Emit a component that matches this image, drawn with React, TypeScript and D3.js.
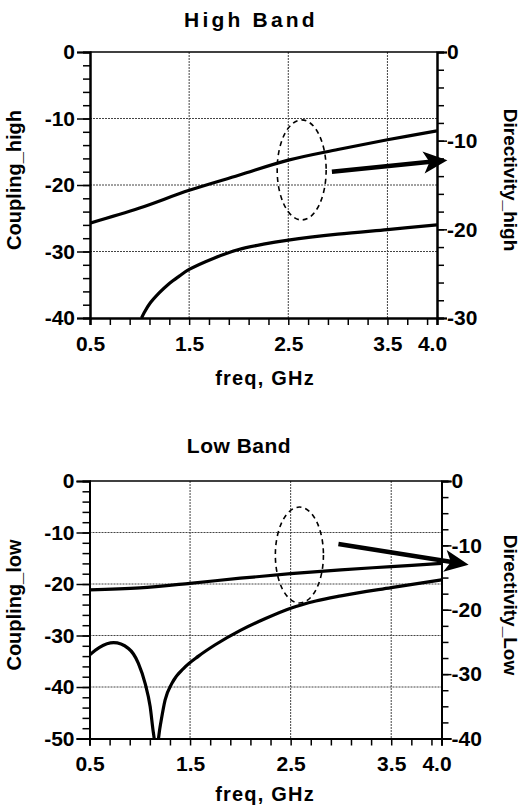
import React, { useEffect, useRef } from 'react';
import * as d3 from 'd3';

const FONT = '"Liberation Sans", Arial, sans-serif';

// x axis (both panels)
const freqTicks = [0.5, 1.5, 2.5, 3.5, 4.0];
const freqTickLabels = ['0.5', '1.5', '2.5', '3.5', '4.0'];
const freqMinor = [0.7, 0.9, 1.1, 1.3, 1.7, 1.9, 2.1, 2.3, 2.7, 2.9, 3.1, 3.3, 3.7, 3.9];

// High band
const couplingHighFreq = [1.02, 1.05, 1.1, 1.2, 1.3, 1.4, 1.5, 1.75, 2.0, 2.25, 2.5, 3.0, 3.5, 4.0];
const couplingHighDb = [-40, -39.1, -37.9, -36.2, -34.8, -33.7, -32.7, -31.0, -29.7, -28.9, -28.3, -27.4, -26.7, -26.0];
const directivityHighFreq = [0.5, 1.0, 1.5, 2.0, 2.5, 3.0, 3.5, 4.0];
const directivityHighDb = [-19.3, -17.6, -15.6, -13.9, -12.2, -11.0, -9.9, -8.9];
const couplingHighTicks = [0, -10, -20, -30, -40];
const directivityHighTicks = [0, -10, -20, -30];

// Low band
const couplingLowFreq = [0.5, 0.6, 0.74, 0.886, 0.986, 1.053, 1.103, 1.136, 1.165, 1.202, 1.252, 1.319, 1.451, 1.584, 1.75, 2.0, 2.25, 2.5, 2.75, 3.0, 3.5, 4.0];
const couplingLowDb = [-33.8, -32.3, -31.4, -32.5, -35.4, -39.3, -43.8, -49.0, -52, -47.7, -42.5, -39.3, -36.1, -34.0, -31.8, -29.0, -26.7, -24.7, -23.3, -22.3, -20.7, -19.2];
const directivityLowFreq = [0.5, 1.0, 1.5, 2.0, 2.5, 3.0, 3.5, 4.0];
const directivityLowDb = [-16.9, -16.6, -15.9, -15.1, -14.4, -13.8, -13.3, -12.8];
const couplingLowTicks = [0, -10, -20, -30, -40, -50];
const directivityLowTicks = [0, -10, -20, -30, -40];

// annotations, in (freq, right axis dB)
const highEllipse = { f: 2.635, v: -13.3, rf: 0.247, rv: 5.64 };
const highArrow = [[2.94, -13.5], [4.105, -12.2]];
const lowEllipse = { f: 2.587, v: -11.5, rf: 0.239, rv: 7.45 };
const lowArrow = [[2.975, -9.8], [4.27, -13.0]];

const minorRange = (min, step) => d3.range(0, min - 0.001, -step);

function drawPanel(svg, p) {
  const x = d3.scaleLinear().domain([0.5, 4.0]).range([p.x0, p.x1]);
  const yL = d3.scaleLinear().domain([p.leftMin, 0]).range([p.y1, p.y0]);
  const yR = d3.scaleLinear().domain([p.rightMin, 0]).range([p.y1, p.y0]);
  const g = svg.append('g');

  g.append('clipPath').attr('id', p.id + '-clip')
    .append('rect')
    .attr('x', p.x0).attr('y', p.y0)
    .attr('width', p.x1 - p.x0).attr('height', p.y1 - p.y0);

  // grid
  g.selectAll('.hgrid').data(p.leftTicks.filter(d => d !== 0 && d !== p.leftMin))
    .enter().append('line')
    .attr('x1', p.x0).attr('x2', p.x1)
    .attr('y1', d => yL(d)).attr('y2', d => yL(d))
    .attr('stroke', '#444').attr('stroke-width', 1).attr('stroke-dasharray', '2,1');
  g.selectAll('.vgrid').data(freqTicks.filter(d => d !== 0.5 && d !== 4.0))
    .enter().append('line')
    .attr('y1', p.y0).attr('y2', p.y1)
    .attr('x1', d => x(d)).attr('x2', d => x(d))
    .attr('stroke', '#444').attr('stroke-width', 1).attr('stroke-dasharray', '2,1');

  // top border
  g.append('line').attr('x1', p.x0).attr('x2', p.x1).attr('y1', p.y0).attr('y2', p.y0)
    .attr('stroke', '#000').attr('stroke-width', 1.5);

  const styleAxis = (a) => {
    a.selectAll('path').attr('stroke', '#000').attr('stroke-width', 2);
    a.selectAll('line').attr('stroke', '#000').attr('stroke-width', 1.5);
    a.selectAll('text').attr('font-family', FONT).attr('font-weight', 'bold')
      .attr('font-size', 21).attr('fill', '#000');
  };

  // left axis
  g.append('g').attr('transform', `translate(${p.x0},0)`)
    .call(d3.axisLeft(yL).tickValues(minorRange(p.leftMin, 2)).tickSize(7).tickFormat(() => ''))
    .call(styleAxis);
  g.append('g').attr('transform', `translate(${p.x0},0)`)
    .call(d3.axisLeft(yL).tickValues(p.leftTicks).tickSize(13).tickPadding(2).tickFormat(d => String(d)))
    .call(styleAxis);

  // right axis
  g.append('g').attr('transform', `translate(${p.x1},0)`)
    .call(d3.axisRight(yR).tickValues(minorRange(p.rightMin, p.rightStep)).tickSize(7).tickFormat(() => ''))
    .call(styleAxis);
  g.append('g').attr('transform', `translate(${p.x1},0)`)
    .call(d3.axisRight(yR).tickValues(p.rightTicks).tickSize(10).tickPadding(0).tickFormat(d => String(d)))
    .call(styleAxis);

  // bottom axis
  g.append('g').attr('transform', `translate(0,${p.y1})`)
    .call(d3.axisBottom(x).tickValues(freqMinor).tickSize(7).tickFormat(() => ''))
    .call(styleAxis);
  const bx = g.append('g').attr('transform', `translate(0,${p.y1})`)
    .call(d3.axisBottom(x).tickValues(freqTicks).tickSize(7).tickPadding(11)
      .tickFormat((d, i) => freqTickLabels[i]))
    .call(styleAxis);
  bx.selectAll('text').filter(d => d === 4.0).attr('dx', -5);

  // curves
  const curves = g.append('g').attr('clip-path', `url(#${p.id}-clip)`);
  const lineL = d3.line().x(d => x(d[0])).y(d => yL(d[1])).curve(p.couplingCurve);
  const lineR = d3.line().x(d => x(d[0])).y(d => yR(d[1])).curve(d3.curveCatmullRom.alpha(0.5));
  curves.append('path')
    .attr('d', lineL(p.couplingFreq.map((f, i) => [f, p.couplingDb[i]])))
    .attr('fill', 'none').attr('stroke', '#000').attr('stroke-width', 3.2);
  curves.append('path')
    .attr('d', lineR(p.directivityFreq.map((f, i) => [f, p.directivityDb[i]])))
    .attr('fill', 'none').attr('stroke', '#000').attr('stroke-width', 3.2);

  // ellipse + arrow
  const e = p.ellipse;
  g.append('ellipse')
    .attr('cx', x(e.f)).attr('cy', yR(e.v))
    .attr('rx', x(e.f + e.rf) - x(e.f)).attr('ry', yR(e.v - e.rv) - yR(e.v))
    .attr('fill', 'none').attr('stroke', '#000').attr('stroke-width', 1.6)
    .attr('stroke-dasharray', '5,4');

  const [a, b] = p.arrow;
  const ax = x(a[0]), ay = yR(a[1]), tx = x(b[0]), ty = yR(b[1]);
  const ang = Math.atan2(ty - ay, tx - ax);
  const headLen = 20, headW = 11;
  const hx = tx - headLen * Math.cos(ang), hy = ty - headLen * Math.sin(ang);
  g.append('line').attr('x1', ax).attr('y1', ay).attr('x2', hx + 3 * Math.cos(ang)).attr('y2', hy + 3 * Math.sin(ang))
    .attr('stroke', '#000').attr('stroke-width', 4.5);
  g.append('path')
    .attr('d', d3.line()([
      [tx, ty],
      [hx - headW * Math.sin(ang) - 4 * Math.cos(ang), hy + headW * Math.cos(ang) - 4 * Math.sin(ang)],
      [hx + 2 * Math.cos(ang), hy + 2 * Math.sin(ang)],
      [hx + headW * Math.sin(ang) - 4 * Math.cos(ang), hy - headW * Math.cos(ang) - 4 * Math.sin(ang)]
    ]) + 'Z')
    .attr('fill', '#000');

  // titles
  const txt = (sel) => sel.attr('font-family', FONT).attr('font-weight', 'bold').attr('fill', '#000');
  g.append('text').text(p.title)
    .attr('x', p.titleX).attr('y', p.titleY).attr('text-anchor', 'middle')
    .attr('font-size', 21).attr('letter-spacing', p.titleSpacing).call(txt);
  g.append('text').text('freq, GHz')
    .attr('x', 265).attr('y', p.xLabelY).attr('text-anchor', 'middle')
    .attr('font-size', 20).attr('letter-spacing', 1.2).call(txt);
  g.append('text').text(p.leftLabel)
    .attr('transform', `translate(21,${p.labelY}) rotate(-90)`).attr('text-anchor', 'middle')
    .attr('font-size', 20).call(txt);
  g.append('text').text(p.rightLabel)
    .attr('transform', `translate(504,${p.labelY}) rotate(90)`).attr('text-anchor', 'middle')
    .attr('font-size', 19).call(txt);
}

export default function App() {
  const ref = useRef(null);

  useEffect(() => {
    const svg = d3.select(ref.current);
    svg.selectAll('*').remove();
    svg.append('rect').attr('width', 523).attr('height', 810).attr('fill', '#fff');

    drawPanel(svg, {
      id: 'high', title: 'High Band', titleX: 251, titleY: 27, titleSpacing: 3.2,
      x0: 90, x1: 437, y0: 52, y1: 318,
      leftMin: -40, rightMin: -30, rightStep: 2,
      leftTicks: couplingHighTicks, rightTicks: directivityHighTicks,
      couplingFreq: couplingHighFreq, couplingDb: couplingHighDb,
      couplingCurve: d3.curveCatmullRom.alpha(0.5),
      directivityFreq: directivityHighFreq, directivityDb: directivityHighDb,
      ellipse: highEllipse, arrow: highArrow,
      xLabelY: 385, labelY: 180,
      leftLabel: 'Coupling_high', rightLabel: 'Directivity_high'
    });

    drawPanel(svg, {
      id: 'low', title: 'Low Band', titleX: 239, titleY: 453, titleSpacing: 0.5,
      x0: 89.5, x1: 441.5, y0: 481, y1: 738.5,
      leftMin: -50, rightMin: -40, rightStep: 2.5,
      leftTicks: couplingLowTicks, rightTicks: directivityLowTicks,
      couplingFreq: couplingLowFreq, couplingDb: couplingLowDb,
      couplingCurve: d3.curveMonotoneX,
      directivityFreq: directivityLowFreq, directivityDb: directivityLowDb,
      ellipse: lowEllipse, arrow: lowArrow,
      xLabelY: 801, labelY: 605,
      leftLabel: 'Coupling_low', rightLabel: 'Directivity_Low'
    });
  }, []);

  return (
    <div style={{ position: 'absolute', left: 0, top: 0 }}>
      <svg ref={ref} width={523} height={810} style={{ display: 'block' }} />
    </div>
  );
}
